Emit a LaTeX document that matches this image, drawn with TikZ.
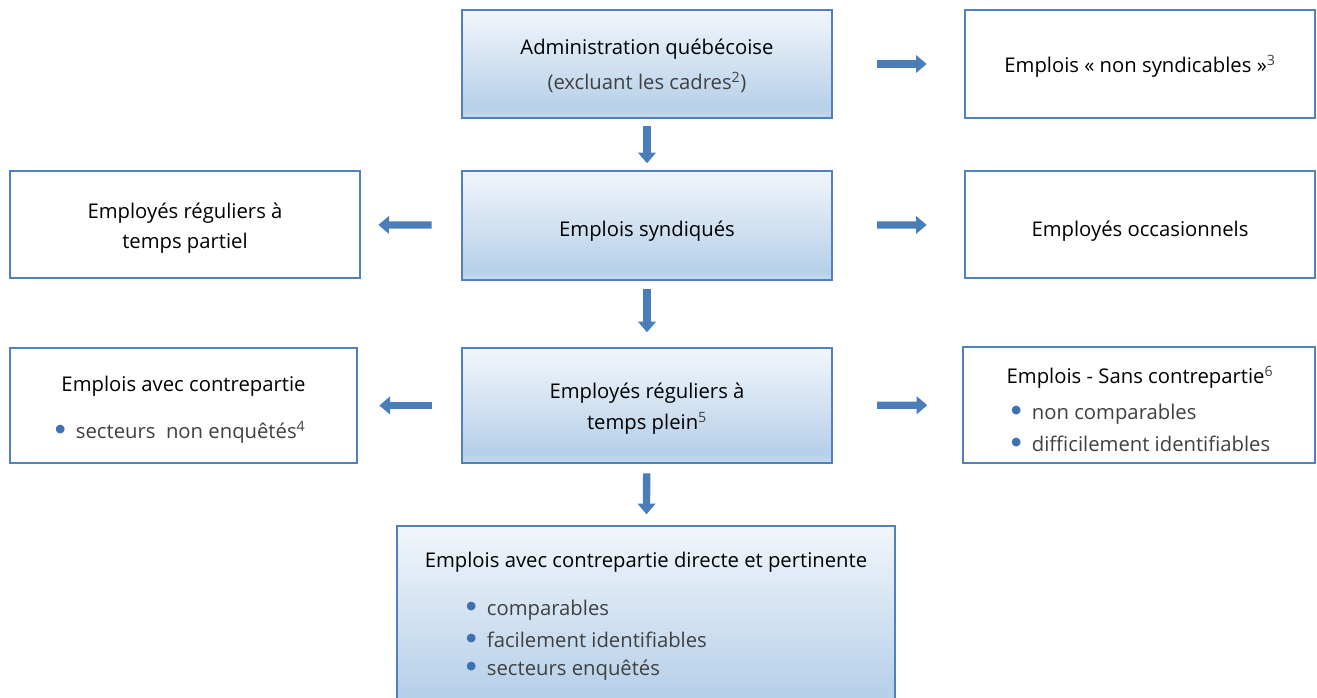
\documentclass[tikz,border=0pt]{standalone}
\usepackage{fontspec}
\setmainfont{Open Sans}
\newfontfamily\symfont{DejaVu Sans}
\usetikzlibrary{arrows.meta}

\definecolor{boxline}{HTML}{4F81BD}
\definecolor{arrowblue}{HTML}{4A7EBB}
\definecolor{bulletblue}{HTML}{3F6FB5}
\definecolor{textgray}{HTML}{404040}
\definecolor{shadetop}{HTML}{F2F6FB}
\definecolor{shadelow}{HTML}{B6D0E9}
\definecolor{shadeedge}{HTML}{C8DBEE}
\pgfdeclareverticalshading{officeshade}{100bp}{color(0bp)=(shadeedge); color(25bp)=(shadeedge); color(29bp)=(shadelow); color(75bp)=(shadetop); color(100bp)=(shadetop)}

\newcommand{\boxfont}{\fontsize{15.2}{22.5}\selectfont}
\newcommand{\bul}{\makebox[15.5pt][l]{\raisebox{0.28em}{\textcolor{bulletblue}{\symfont\fontsize{8.5}{8.5}\selectfont ●}}}}

\begin{document}
\begin{tikzpicture}[x=0.75pt,y=-0.75pt,
    box/.style={draw=boxline,line width=1.5pt,fill=white,inner sep=0pt},
    bluebox/.style={box,shade,shading=officeshade},
    title/.style={inner sep=0pt,font=\boxfont},
    sub/.style={title,text=textgray},
    item/.style={anchor=west,inner sep=0pt,text=textgray,font=\boxfont},
    blockarrow/.style={arrowblue,line width=5.5pt,-{Triangle[width=13pt,length=8pt]}}]
    \clip (0,0) rectangle (1317,698);
    \node[bluebox,minimum width=277.5pt,minimum height=81pt] (admin) at (647,64) {};
    \node[box,minimum width=262.5pt,minimum height=81pt] (nonsynd) at (1140,64) {};
    \node[box,minimum width=262.5pt,minimum height=80.25pt] (partiel) at (185,224.5) {};
    \node[bluebox,minimum width=277.5pt,minimum height=81.75pt] (synd) at (647,225.5) {};
    \node[box,minimum width=262.5pt,minimum height=80.25pt] (occas) at (1140,224.5) {};
    \node[box,minimum width=260.25pt,minimum height=86.25pt] (avec) at (183.5,405.5) {};
    \node[bluebox,minimum width=277.5pt,minimum height=86.25pt] (plein) at (647,405.5) {};
    \node[box,minimum width=264pt,minimum height=87pt] (sans) at (1139,405) {};
    \node[bluebox,minimum width=373.5pt,minimum height=138pt] (directe) at (646,618) {};

    \node[title] (admintitle) at (647,49) {Administration québécoise};
    \node[sub] (adminsub) at (647,82) {(excluant les cadres\textsuperscript{2})};
    \node[title] (nonsynd1) at (1140,66) {Emplois « non syndicables »\textsuperscript{\color{textgray}3}};
    \node[title] (partiel1) at (185,213) {Employés réguliers à};
    \node[title] (partiel2) at (185,243) {temps partiel};
    \node[title] (synd1) at (647,231) {Emplois syndiqués};
    \node[title] (occas1) at (1140,231) {Employés occasionnels};
    \node[title] (plein1) at (647,393) {Employés réguliers à};
    \node[title] (plein2) at (647,423) {temps plein\textsuperscript{\color{textgray}5}};

    \node[title] (avectitle) at (183.5,386) {Emplois avec contrepartie};
    \node[item] (avec1) at (55,432) {\bul secteurs\ \ non enquêtés\textsuperscript{4}};
    \node[title] (sanstitle) at (1140,377) {Emplois - Sans contrepartie\textsuperscript{\color{textgray}6}};
    \node[item] (sans1) at (1011,414) {\bul non comparables};
    \node[item] (sans2) at (1011,444) {\bul difficilement identifiables};
    \node[title] (directetitle) at (646,562) {Emplois avec contrepartie directe et pertinente};
    \node[item] (directe1) at (466,610) {\bul comparables};
    \node[item] (directe2) at (466,640) {\bul facilement identifiables};
    \node[item] (directe3) at (466,670) {\bul secteurs enquêtés};

    \draw[blockarrow,shorten <=5pt,shorten >=5pt] (admin) -- (synd);
    \draw[blockarrow,shorten <=6pt,shorten >=11pt] (synd) -- (plein);
    \draw[blockarrow,shorten <=7pt,shorten >=8pt] (plein) -- (directe);
    \draw[blockarrow,shorten <=33pt,shorten >=28pt] (admin) -- (nonsynd);
    \draw[blockarrow,shorten <=33pt,shorten >=28pt] (synd) -- (occas);
    \draw[blockarrow,shorten <=33pt,shorten >=26pt] (plein) -- (sans);
    \draw[blockarrow,shorten <=22pt,shorten >=13pt] (synd) -- (partiel);
    \draw[blockarrow,shorten <=22pt,shorten >=16pt] (plein) -- (avec);
\end{tikzpicture}
\end{document}
